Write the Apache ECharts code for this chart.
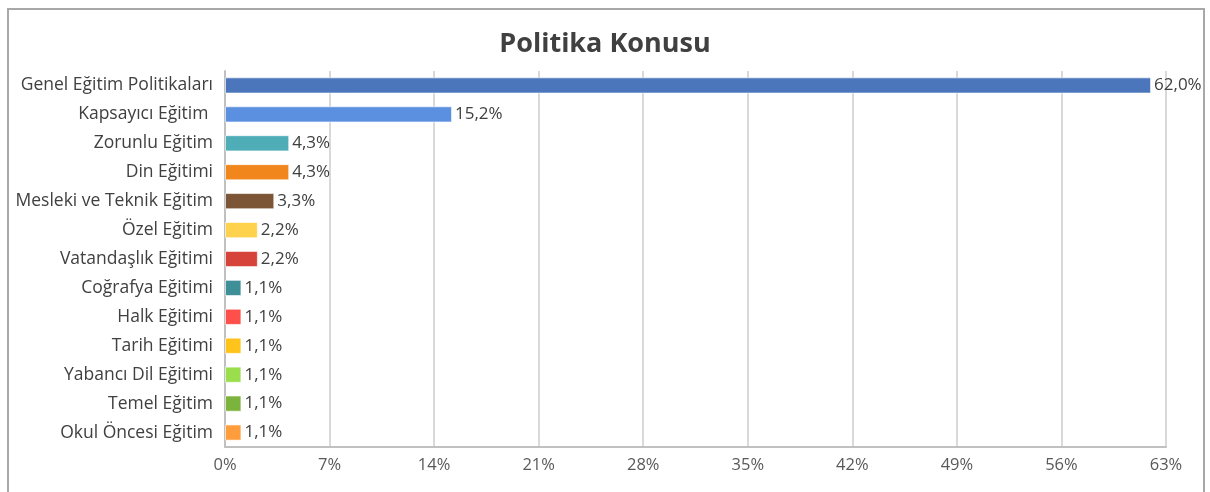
<!DOCTYPE html>
<html>
<head>
<meta charset="utf-8">
<script src="https://cdn.jsdelivr.net/npm/echarts@6/dist/echarts.min.js"></script>
<style>
  html, body { margin: 0; padding: 0; background: #fff; }
  #chart { width: 1210px; height: 492px; }
</style>
</head>
<body>
<div id="chart"></div>
<script>
// kategoriler ve yüzdeler
const categories = [
  'Genel Eğitim Politikaları', 'Kapsayıcı Eğitim ', 'Zorunlu Eğitim', 'Din Eğitimi',
  'Mesleki ve Teknik Eğitim', 'Özel Eğitim', 'Vatandaşlık Eğitimi', 'Coğrafya Eğitimi',
  'Halk Eğitimi', 'Tarih Eğitimi', 'Yabancı Dil Eğitimi', 'Temel Eğitim', 'Okul Öncesi Eğitim'
];
const values = [62.0, 15.2, 4.3, 4.3, 3.3, 2.2, 2.2, 1.1, 1.1, 1.1, 1.1, 1.1, 1.1];
const barColors = [
  '#4b76bb', '#5b8fe0', '#4fadb8', '#f0861c', '#7b5535', '#ffd24d', '#d5433b',
  '#3f8f99', '#ff4f4a', '#ffc31c', '#9bde4d', '#7bb33c', '#ff9c3c'
];

const chart = echarts.init(document.getElementById('chart'));

const option = {
  animation: false,
  textStyle: { fontFamily: 'Open Sans' },
  title: {
    text: 'Politika Konusu',
    left: 'center',
    top: 26,
    textStyle: { fontSize: 27, fontWeight: 'bold', color: '#404040', fontFamily: 'Open Sans' }
  },
  graphic: [{
    type: 'rect',
    shape: { x: 8, y: 9, width: 1196, height: 520 },
    style: { fill: 'none', stroke: '#a8a8a8', lineWidth: 2 },
    silent: true
  }],
  grid: { left: 225, right: 44, top: 71, bottom: 45 },
  xAxis: {
    type: 'value',
    min: 0,
    max: 63,
    interval: 7,
    axisLine: { show: true, lineStyle: { color: '#c0c0c0', width: 2 } },
    axisTick: { show: false },
    axisLabel: {
      color: '#595959',
      fontSize: 16.5,
      margin: 10,
      formatter: v => v + '%'
    },
    splitLine: { show: true, lineStyle: { color: '#cccccc', width: 1.5 } }
  },
  yAxis: {
    type: 'category',
    inverse: true,
    data: categories,
    axisLine: { show: true, lineStyle: { color: '#c0c0c0', width: 2 } },
    axisTick: { show: false },
    axisLabel: { color: '#404040', fontSize: 17.5, margin: 12 }
  },
  series: [{
    type: 'bar',
    data: values.map((v, i) => ({ value: v, itemStyle: { color: barColors[i] } })),
    barCategoryGap: '44%',
    itemStyle: { borderColor: 'rgba(255,255,255,0.6)', borderWidth: 1 },
    label: {
      show: true,
      position: 'right',
      distance: 3,
      color: '#404040',
      fontSize: 17,
      formatter: p => p.value.toFixed(1).replace('.', ',') + '%'
    }
  }]
};

chart.setOption(option);
</script>
</body>
</html>
